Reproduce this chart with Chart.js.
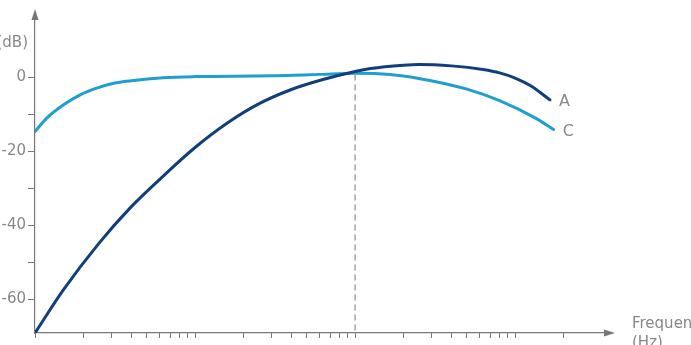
<!DOCTYPE html>
<html>
<head>
<meta charset="utf-8">
<script src="https://cdn.jsdelivr.net/npm/chart.js@4.4.1/dist/chart.umd.min.js"></script>
<style>
    body { margin: 0; background: #ffffff; }
    #wrap { width: 691px; height: 345px; position: relative; overflow: hidden; }
</style>
</head>
<body>
<div id="wrap"><canvas id="weighting" width="691" height="345"></canvas></div>
<script>
// Data (frequency in Hz, level in dB)
const freqA = [10, 15, 25, 40, 63, 100, 160, 250, 400, 630, 1000, 1250, 2000, 2500, 4000, 6300, 8000, 10000, 12500, 16500];
const levelA = [-69.2, -57.6, -45, -35, -26.8, -19, -12.3, -7.2, -3.3, -0.6, 1.6, 2.4, 3.3, 3.5, 3.1, 2.1, 1.2, -0.2, -2.3, -6.1];

const freqC = [10, 11.8, 15, 19, 24, 31, 40, 63, 100, 300, 600, 1000, 1400, 2000, 3200, 5000, 8000, 13500, 17400];
const levelC = [-14.7, -11.1, -7.5, -4.8, -3.0, -1.6, -0.9, -0.1, 0.2, 0.4, 0.8, 1.1, 1.0, 0.35, -1.2, -3.2, -6.3, -11.1, -14.1];

const markerFreq = [1000, 1000];
const markerLevel = [0.8, -69.2];

const seriesNames = ['A', 'C'];

const xTickValues = [10, 20, 30, 40, 50, 60, 70, 80, 90,
    100, 200, 300, 400, 500, 600, 700, 800, 900,
    1000, 2000, 3000, 4000, 5000, 6000, 7000, 8000, 9000,
    10000, 20000];
const yTickValues = [-60, -50, -40, -30, -20, -10, 0];
const yTickLabels = ['-60', '', '-40', '', '-20', '', '0'];

const yAxisTitle = '(dB)';
const xAxisTitle = ['Frequency', '(Hz)'];

const colorA = '#113f7b';
const colorC = '#1f9fd1';
const axisColor = '#777777';
const textColor = '#888888';
const fontFamily = "'DejaVu Sans', 'Open Sans', sans-serif";

function toPoints(xs, ys) {
    return xs.map((x, i) => ({ x: x, y: ys[i] }));
}

// Axis arrows, titles and curve labels
const decorations = {
    id: 'decorations',
    afterDraw(chart) {
        const ctx = chart.ctx;
        const area = chart.chartArea;
        ctx.save();
        ctx.fillStyle = axisColor;

        // arrow on top of the y axis
        ctx.beginPath();
        ctx.moveTo(area.left, area.top - 7);
        ctx.lineTo(area.left - 3.5, area.top + 4);
        ctx.lineTo(area.left + 3.5, area.top + 4);
        ctx.closePath();
        ctx.fill();

        // arrow at the end of the x axis
        ctx.beginPath();
        ctx.moveTo(area.right + 8, area.bottom);
        ctx.lineTo(area.right - 3, area.bottom - 3.5);
        ctx.lineTo(area.right - 3, area.bottom + 3.5);
        ctx.closePath();
        ctx.fill();

        ctx.fillStyle = textColor;
        ctx.font = '15px ' + fontFamily;
        ctx.textBaseline = 'middle';

        ctx.textAlign = 'right';
        ctx.fillText(yAxisTitle, 28, 43);

        ctx.textAlign = 'left';
        ctx.fillText(xAxisTitle[0], 632, 324);
        ctx.fillText(xAxisTitle[1], 632, 343);

        // curve names next to the last point of each curve
        ctx.font = '16px ' + fontFamily;
        seriesNames.forEach((name, i) => {
            const pts = chart.getDatasetMeta(i).data;
            const last = pts[pts.length - 1];
            ctx.fillText(name, last.x + 9, last.y + 2);
        });
        ctx.restore();
    }
};

const ctx = document.getElementById('weighting').getContext('2d');
const chart = new Chart(ctx, {
    type: 'line',
    data: {
        datasets: [{
            label: seriesNames[0],
            data: toPoints(freqA, levelA),
            borderColor: colorA,
            borderWidth: 3,
            pointRadius: 0,
            cubicInterpolationMode: 'monotone',
            borderCapStyle: 'round',
            fill: false
        }, {
            label: seriesNames[1],
            data: toPoints(freqC, levelC),
            borderColor: colorC,
            borderWidth: 3,
            pointRadius: 0,
            cubicInterpolationMode: 'monotone',
            borderCapStyle: 'round',
            fill: false
        }, {
            label: 'marker',
            data: toPoints(markerFreq, markerLevel),
            borderColor: '#8a8a8a',
            borderWidth: 1.2,
            borderDash: [6, 4],
            pointRadius: 0,
            fill: false
        }]
    },
    options: {
        responsive: false,
        animation: false,
        layout: {
            padding: { top: 16, right: 84, bottom: 0, left: 0 }
        },
        plugins: {
            legend: { display: false },
            tooltip: { enabled: false }
        },
        scales: {
            x: {
                type: 'logarithmic',
                min: 10,
                max: 37500,
                afterBuildTicks: (scale) => {
                    scale.ticks = xTickValues.map(v => ({ value: v }));
                },
                afterFit: (scale) => { scale.height = 12; },
                border: { display: true, color: axisColor, width: 1.2 },
                grid: {
                    drawOnChartArea: false,
                    drawTicks: true,
                    tickLength: 5,
                    color: axisColor,
                    lineWidth: 1
                },
                ticks: {
                    autoSkip: false,
                    maxRotation: 0,
                    padding: 0,
                    callback: () => ''
                }
            },
            y: {
                type: 'linear',
                min: -69.2,
                max: 16.6,
                afterBuildTicks: (scale) => {
                    scale.ticks = yTickValues.map(v => ({ value: v }));
                },
                afterFit: (scale) => { scale.width = 35; },
                border: { display: true, color: axisColor, width: 1.2 },
                grid: {
                    drawOnChartArea: false,
                    drawTicks: true,
                    tickLength: 7,
                    color: axisColor,
                    lineWidth: 1
                },
                ticks: {
                    autoSkip: false,
                    padding: 2,
                    color: textColor,
                    font: { family: fontFamily, size: 15 },
                    callback: (value) => {
                        const i = yTickValues.indexOf(value);
                        return i >= 0 ? yTickLabels[i] : '';
                    }
                }
            }
        }
    },
    plugins: [decorations]
});
</script>
</body>
</html>
